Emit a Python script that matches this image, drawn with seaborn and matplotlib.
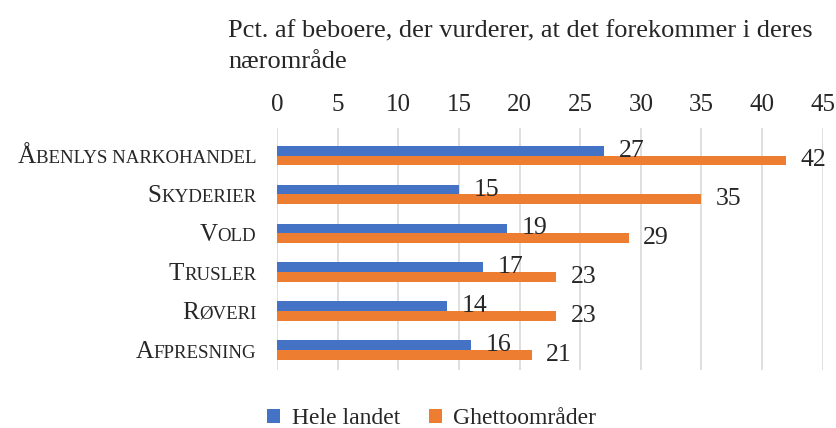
import pandas as pd
import seaborn as sns
import matplotlib.pyplot as plt

categories = ["Åbenlys narkohandel", "Skyderier", "Vold", "Trusler", "Røveri", "Afpresning"]
hele_landet = [27, 15, 19, 17, 14, 16]
ghetto = [42, 35, 29, 23, 23, 21]
series_names = ["Hele landet", "Ghettoområder"]
x_ticks = [0, 5, 10, 15, 20, 25, 30, 35, 40, 45]
title = "Pct. af beboere, der vurderer, at det forekommer i deres\nnærområde"

df = pd.DataFrame({
    "Kategori": categories * 2,
    "Serie": [series_names[0]] * len(categories) + [series_names[1]] * len(categories),
    "Pct": hele_landet + ghetto,
})

sns.set_style("white")
plt.rcParams["font.family"] = ["Liberation Serif", "DejaVu Serif"]

fig = plt.figure(figsize=(8.37, 4.28), dpi=100)
ax = fig.add_axes([0.331, 0.1355, 0.652, 0.5654])

sns.barplot(
    data=df, y="Kategori", x="Pct", hue="Serie", orient="h",
    palette=["#4472C4", "#ED7D31"], saturation=1, width=0.5,
    linewidth=0, ax=ax,
)

for container in ax.containers:
    ax.bar_label(container, padding=10.5, fontsize=18.5)

ax.set_xlim(0, 45)
ax.set_ylim(5.52, -0.71)
ax.set_xticks(x_ticks)
ax.xaxis.tick_top()
ax.tick_params(axis="x", length=0, pad=9, labelsize=18)
ax.tick_params(axis="y", length=0)
ax.set_yticklabels([])
ax.set(xlabel=None, ylabel=None)
ax.grid(axis="x", color="#D9D9D9", linewidth=1.2)
ax.set_axisbelow(True)
for side in ax.spines.values():
    side.set_visible(False)

# small caps category labels: big first letter + smaller uppercase rest
for i, name in enumerate(categories):
    rest = ax.annotate(
        name[1:].upper(), xy=(0, i + 0.2), xycoords=("axes fraction", "data"),
        xytext=(-15, 0), textcoords="offset points",
        ha="right", va="baseline", fontsize=13.6,
    )
    ax.annotate(
        name[0].upper(), xy=(0, i + 0.2), xycoords=(rest, "data"),
        ha="right", va="baseline", fontsize=18,
    )

fig.text(228 / 837, 1 - 20 / 428, title, ha="left", va="top", fontsize=19, linespacing=1.5)

sns.move_legend(
    ax, "center", bbox_to_anchor=(0.516, 0.022), bbox_transform=fig.transFigure,
    ncol=2, frameon=False, title=None, fontsize=17,
    handlelength=0.55, handleheight=0.55, handletextpad=0.5, columnspacing=1.2,
)

plt.savefig("out.png", dpi=100)
plt.close()
